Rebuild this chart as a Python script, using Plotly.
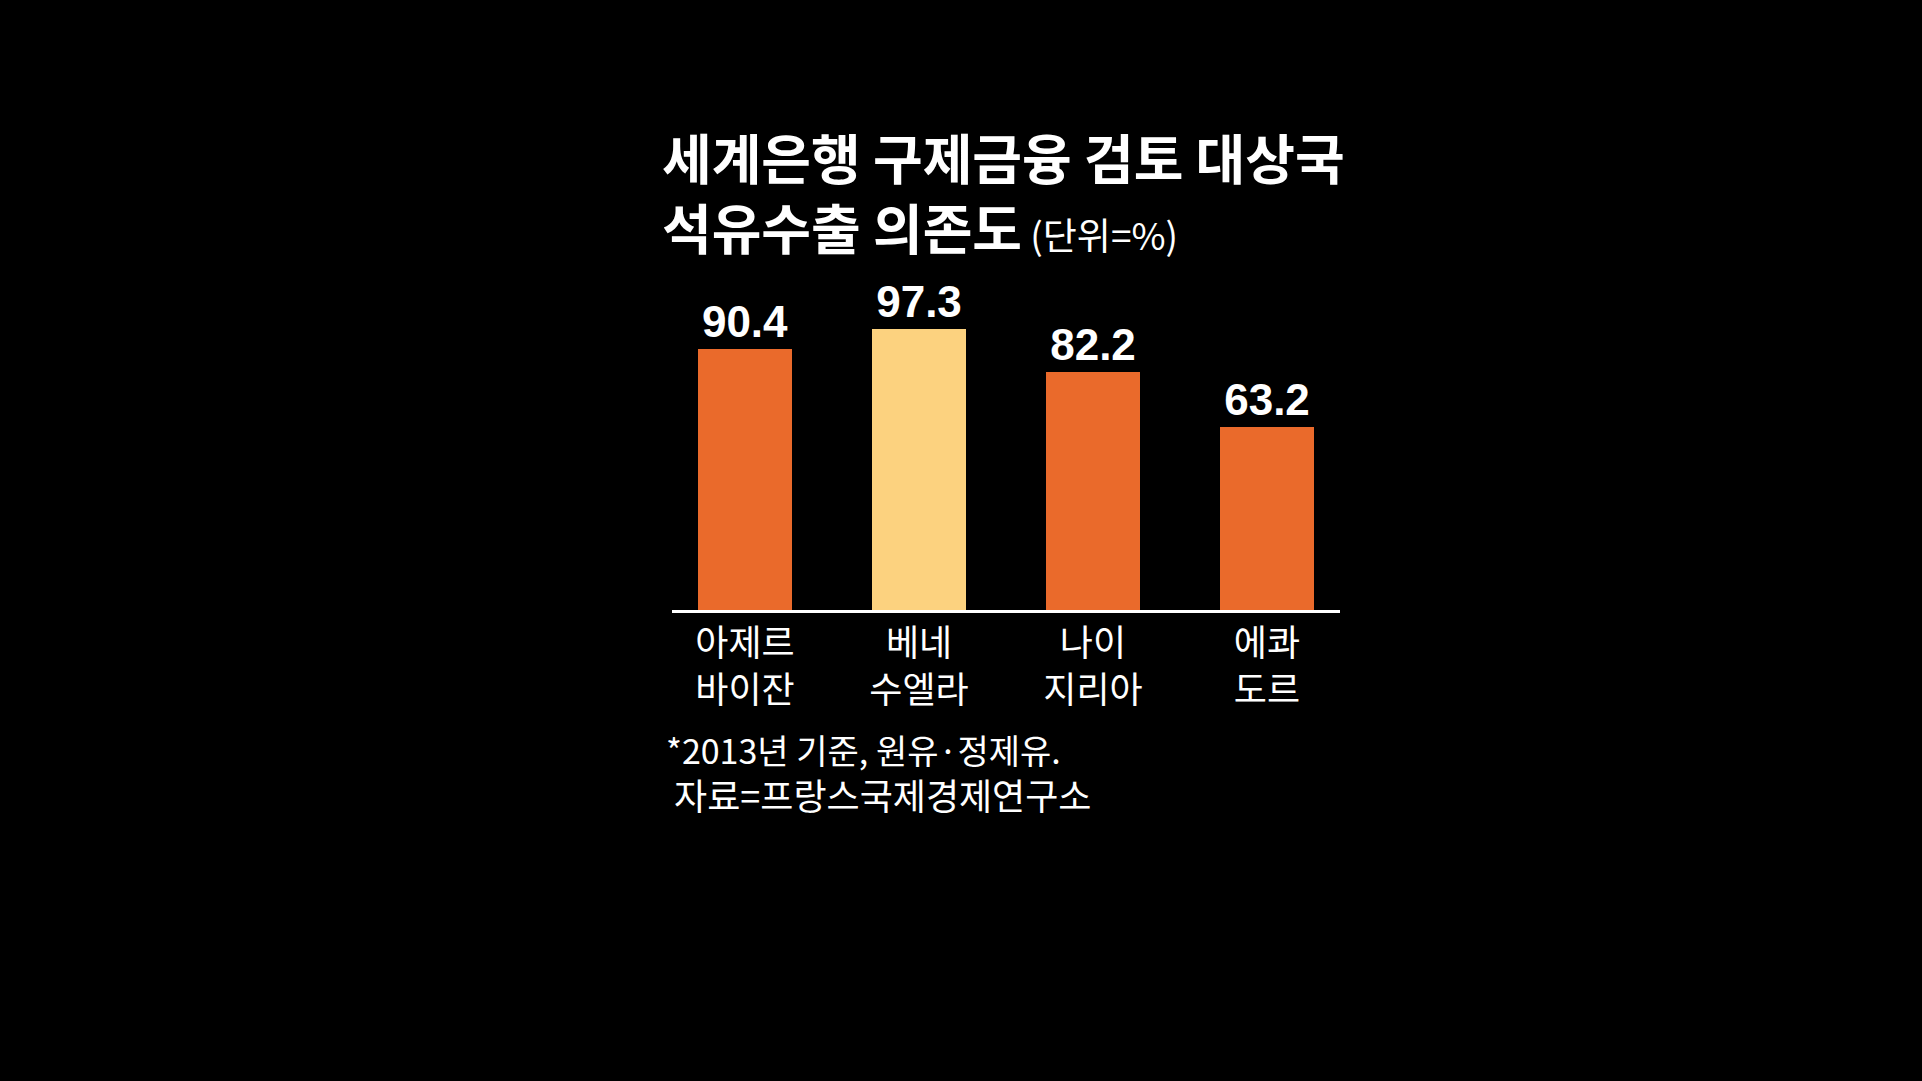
import plotly.graph_objects as go

# data
countries = ["아제르<br>바이잔", "베네<br>수엘라", "나이<br>지리아", "에콰<br>도르"]
dependency = [90.4, 97.3, 82.2, 63.2]
bar_colors = ["#EA6A2B", "#FCD27F", "#EA6A2B", "#EA6A2B"]

title_1 = "세계은행 구제금융 검토 대상국"
title_2 = "석유수출 의존도"
unit_note = "(단위=%)"
foot_1 = "*2013년 기준, 원유·정제유."
foot_2 = "자료=프랑스국제경제연구소"

W, H = 1922, 1081
kr = "Noto Sans CJK KR, Noto Sans, sans-serif"

fig = go.Figure()

fig.add_trace(go.Bar(
    x=list(range(len(countries))),
    y=dependency,
    width=0.545,
    marker=dict(color=bar_colors, line=dict(width=0)),
    text=[f"{v:.1f}" for v in dependency],
    textposition="outside",
    constraintext="none",
    cliponaxis=False,
    textfont=dict(family="Liberation Sans Narrow, Liberation Sans, sans-serif",
                  size=44, color="white", weight=700),
    hoverinfo="skip",
))

fig.update_xaxes(
    range=[-0.42, 3.42],
    tickmode="array",
    tickvals=list(range(len(countries))),
    ticktext=countries,
    tickfont=dict(family=kr, size=36, color="white"),
    showline=True, linecolor="white", linewidth=3,
    showgrid=False, zeroline=False, ticks="",
    ticklabelstandoff=0,
)
fig.update_yaxes(range=[0, 100], visible=False, showgrid=False, zeroline=False)

# title block (two lines in one annotation)
fig.add_annotation(
    x=660 / W, y=1 - 192 / H, xref="paper", yref="paper",
    text=(f"<b>{title_1}</b><br><b>{title_2}</b>"
          f"<span style='font-size:37px'> {unit_note}</span>"),
    showarrow=False, xanchor="left", yanchor="middle", align="left",
    font=dict(family=kr, size=54, color="white"),
)

# footnote block
fig.add_annotation(
    x=664 / W, y=1 - 772 / H, xref="paper", yref="paper",
    text=(f"<span style='font-size:34px'>{foot_1}</span><br>"
          f"<span style='font-size:36px'> {foot_2}</span>"),
    showarrow=False, xanchor="left", yanchor="middle", align="left",
    font=dict(family=kr, size=35, color="white"),
)

fig.update_layout(
    width=W, height=H,
    margin=dict(l=0, r=0, t=0, b=0),
    paper_bgcolor="black", plot_bgcolor="black",
    showlegend=False,
    bargap=0,
)
fig.update_xaxes(domain=[672 / W, 1340 / W])
fig.update_yaxes(domain=[1 - 610 / H, 1 - 321 / H])

fig.write_html(
    "out.html",
    config={"displayModeBar": False},
    post_script="document.body.style.margin='0';document.body.style.background='black';",
)
